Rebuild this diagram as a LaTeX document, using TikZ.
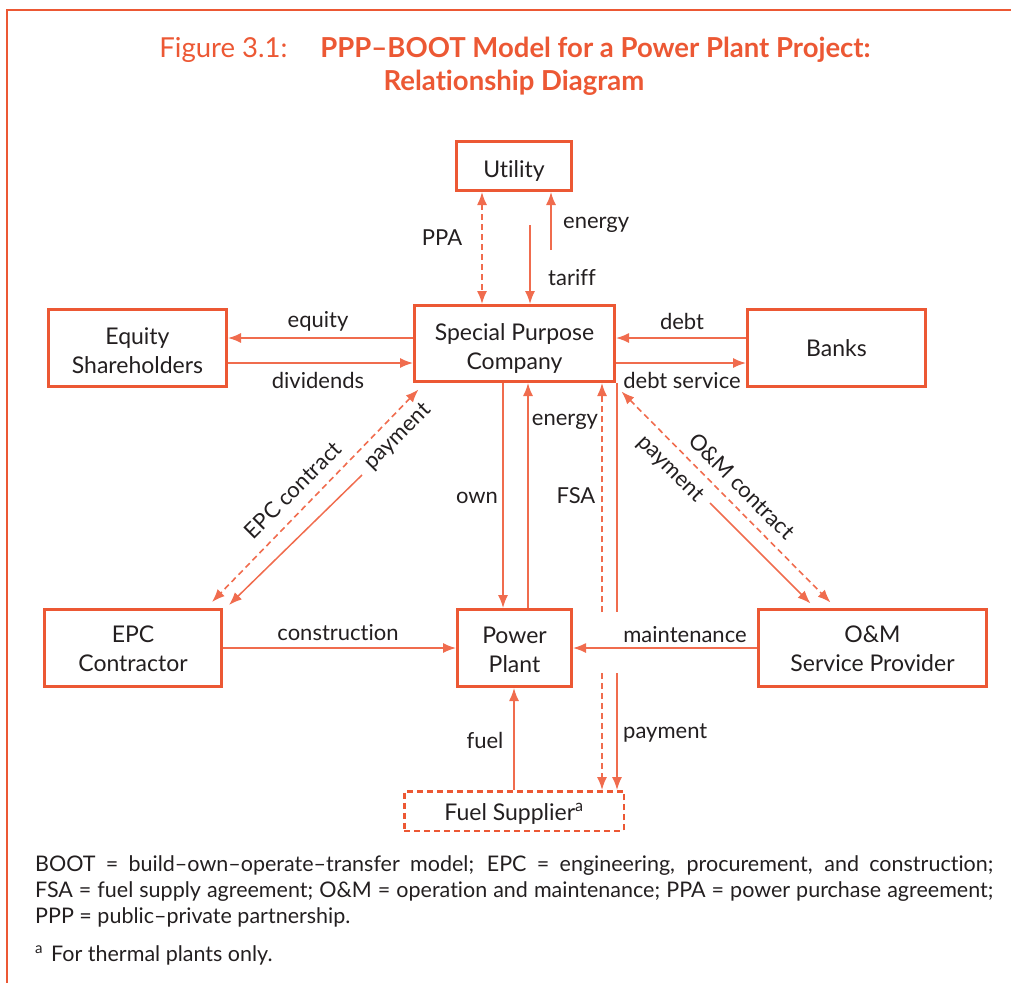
\documentclass[tikz,border=0pt]{standalone}
\usepackage{fontspec}
\setmainfont{Lato}[Ligatures=NoCommon]
\usetikzlibrary{arrows.meta,calc}

\definecolor{boxorange}{RGB}{236,88,52}
\definecolor{floworange}{RGB}{240,108,78}
\definecolor{ink}{RGB}{35,31,32}

% invisible strut that sets the height of a first text line
\newcommand\firstline[1]{\rule{0pt}{#1pt}}

\begin{document}
\begin{tikzpicture}[x=1pt,y=-1pt,
  box/.style={draw=boxorange, line width=3pt, align=center, text=ink,
    font=\fontsize{23}{28.5}\selectfont, inner sep=0pt},
  lbl/.style={text=ink, font=\fontsize{22}{26}\selectfont, inner sep=0pt},
  flow/.style={draw=floworange, line width=1.5pt, -{Latex[length=13pt,width=10pt]}},
  plain/.style={draw=floworange, line width=1.5pt},
  dflow/.style={draw=floworange, line width=1.6pt, dash pattern=on 6pt off 4pt,
    -{Latex[length=13pt,width=10pt]}},
  dflowboth/.style={draw=floworange, line width=1.6pt, dash pattern=on 6pt off 4pt,
    {Latex[length=13pt,width=10pt]}-{Latex[length=13pt,width=10pt]}},
  titlefont/.style={text=boxorange, font=\fontsize{27.5}{32}\selectfont, inner sep=0pt},
  notestyle/.style={text=ink, font=\fontsize{21.5}{26}\selectfont, inner sep=0pt}
]
\useasboundingbox (0,0) rectangle (1011,983);

% page frame
\draw[boxorange, line width=1.5pt] (1011,10) -- (7,10) -- (7,983);

% title
\node[titlefont, anchor=base] (title1) at (515,57)
  {Figure 3.1:\hspace{33pt}\textbf{PPP–BOOT Model for a Power Plant Project:}};
\node[titlefont, anchor=base] (title2) at (514,90) {\textbf{Relationship Diagram}};

% parties
\node[box, minimum width=115pt, minimum height=49pt] (utility) at (514,166) {\firstline{26.4}Utility};
\node[box, minimum width=200pt, minimum height=76pt] (spc) at (514.5,343.5) {\firstline{27.4}Special Purpose\\Company};
\node[box, minimum width=178pt, minimum height=77pt] (equity) at (137.5,348) {\firstline{22}Equity\\Shareholders};
\node[box, minimum width=178pt, minimum height=77pt] (banks) at (836.5,348) {Banks};
\node[box, minimum width=177pt, minimum height=77pt] (epc) at (133,648) {\firstline{18}EPC\\Contractor};
\node[box, minimum width=114pt, minimum height=77pt] (plant) at (514.5,648) {\firstline{20}Power\\Plant};
\node[box, minimum width=228pt, minimum height=77pt] (om) at (872.5,648) {\firstline{18}O\&M\\Service Provider};
\node[box, line width=2.5pt, dash pattern=on 6pt off 4pt, minimum width=219.5pt, minimum height=39.5pt]
  (fuel) at (514,811) {\firstline{22.4}Fuel Supplier\textsuperscript{a}};

% reference columns and rows for the connectors
\coordinate (xppa) at (482,0);
\coordinate (tariffTop) at (530,225);
\coordinate (energyLow) at (551,250);
\coordinate (yhi) at (0,338);
\coordinate (ylo) at (0,363);
\coordinate (xown) at (503,0);
\coordinate (xenergy) at (528,0);
\coordinate (fsaUpper) at (602,612);
\coordinate (fsaLower) at (602,673);
\coordinate (payUpper) at (617,612);
\coordinate (payLower) at (617,673);
\coordinate (yrow) at (0,648);
\coordinate (xfuel) at (514,0);
\coordinate (epcPayStart) at (362,475);
\coordinate (omPayStart) at (710,503);

% utility links
\draw[dflowboth] (utility.south -| xppa) -- (spc.north -| xppa);
\draw[flow] (tariffTop) -- (spc.north -| tariffTop);
\draw[flow] (energyLow) -- (utility.south -| energyLow);

% shareholders and banks
\draw[flow] (spc.west |- yhi) -- (equity.east |- yhi);
\draw[flow] (equity.east |- ylo) -- (spc.west |- ylo);
\draw[flow] (banks.west |- yhi) -- (spc.east |- yhi);
\draw[flow] (spc.east |- ylo) -- (banks.west |- ylo);

% company and plant
\draw[flow] (spc.south -| xown) -- (plant.north -| xown);
\draw[flow] (plant.north -| xenergy) -- (spc.south -| xenergy);

% fuel supply agreement and payment, broken where they pass the plant
\draw[dflow] (fsaUpper) -- (spc.south -| fsaUpper);
\draw[dflow] (fsaLower) -- (fuel.north -| fsaLower);
\draw[plain] (spc.south -| payUpper) -- (payUpper);
\draw[flow] (payLower) -- (fuel.north -| payLower);

% plant inputs
\draw[flow] (epc.east |- yrow) -- (plant.west |- yrow);
\draw[flow] (om.west |- yrow) -- (plant.east |- yrow);
\draw[flow] (fuel.north -| xfuel) -- (plant.south -| xfuel);

% contractor links
\draw[dflowboth] ($(spc.south west)+(5.5,6.5)$) -- ($(epc.north)+(79,-6)$);
\draw[flow] (epcPayStart) -- ($(epc.north east)+(6,-3)$);

% operator links
\draw[dflowboth] ($(spc.south east)+(5.5,8.5)$) -- ($(om.north west)+(73.5,-5.5)$);
\draw[flow] (omPayStart) -- ($(om.north west)+(53.5,-4.5)$);

% connector labels
\node[lbl, anchor=base] (lppa) at (442,245) {PPA};
\node[lbl, anchor=base west] (lenergyA) at (563,228) {energy};
\node[lbl, anchor=base west] (ltariff) at (548,285) {tariff};
\node[lbl, anchor=base] (lequity) at (318,327) {equity};
\node[lbl, anchor=base] (ldividends) at (318,388) {dividends};
\node[lbl, anchor=base] (ldebt) at (682,329) {debt};
\node[lbl, anchor=base] (ldebtservice) at (682,388) {debt service};
\node[lbl, anchor=base] (lenergyB) at (565,425) {energy};
\node[lbl, anchor=base] (lown) at (477,503) {own};
\node[lbl, anchor=base] (lfsa) at (576,503) {FSA};
\node[lbl, anchor=base] (lconstruction) at (338,640) {construction};
\node[lbl, anchor=base] (lmaintenance) at (685,642) {maintenance};
\node[lbl, anchor=base] (lfuel) at (485,748) {fuel};
\node[lbl, anchor=base west] (lpayment) at (623,738) {payment};
\node[lbl, rotate=45] (lepc) at (293,490) {EPC contract};
\node[lbl, rotate=45] (lepcpay) at (398,437) {payment};
\node[lbl, rotate=-45] (lom) at (742,486) {O\&M contract};
\node[lbl, rotate=-45] (lompay) at (670,469) {payment};

% abbreviations and note
\node[notestyle, anchor=base west] (note1) at (35,871)
  {\makebox[958pt][s]{BOOT = build–own–operate–transfer model; EPC = engineering, procurement, and construction;}};
\node[notestyle, anchor=base west] (note2) at (35,897)
  {\makebox[958pt][s]{FSA = fuel supply agreement; O\&M = operation and maintenance; PPA = power purchase agreement;}};
\node[notestyle, anchor=base west] (note3) at (35,923) {PPP = public–private partnership.};
\node[notestyle, anchor=base west] (note4) at (35,961) {\textsuperscript{a}\hspace{8pt}For thermal plants only.};
\end{tikzpicture}
\end{document}
